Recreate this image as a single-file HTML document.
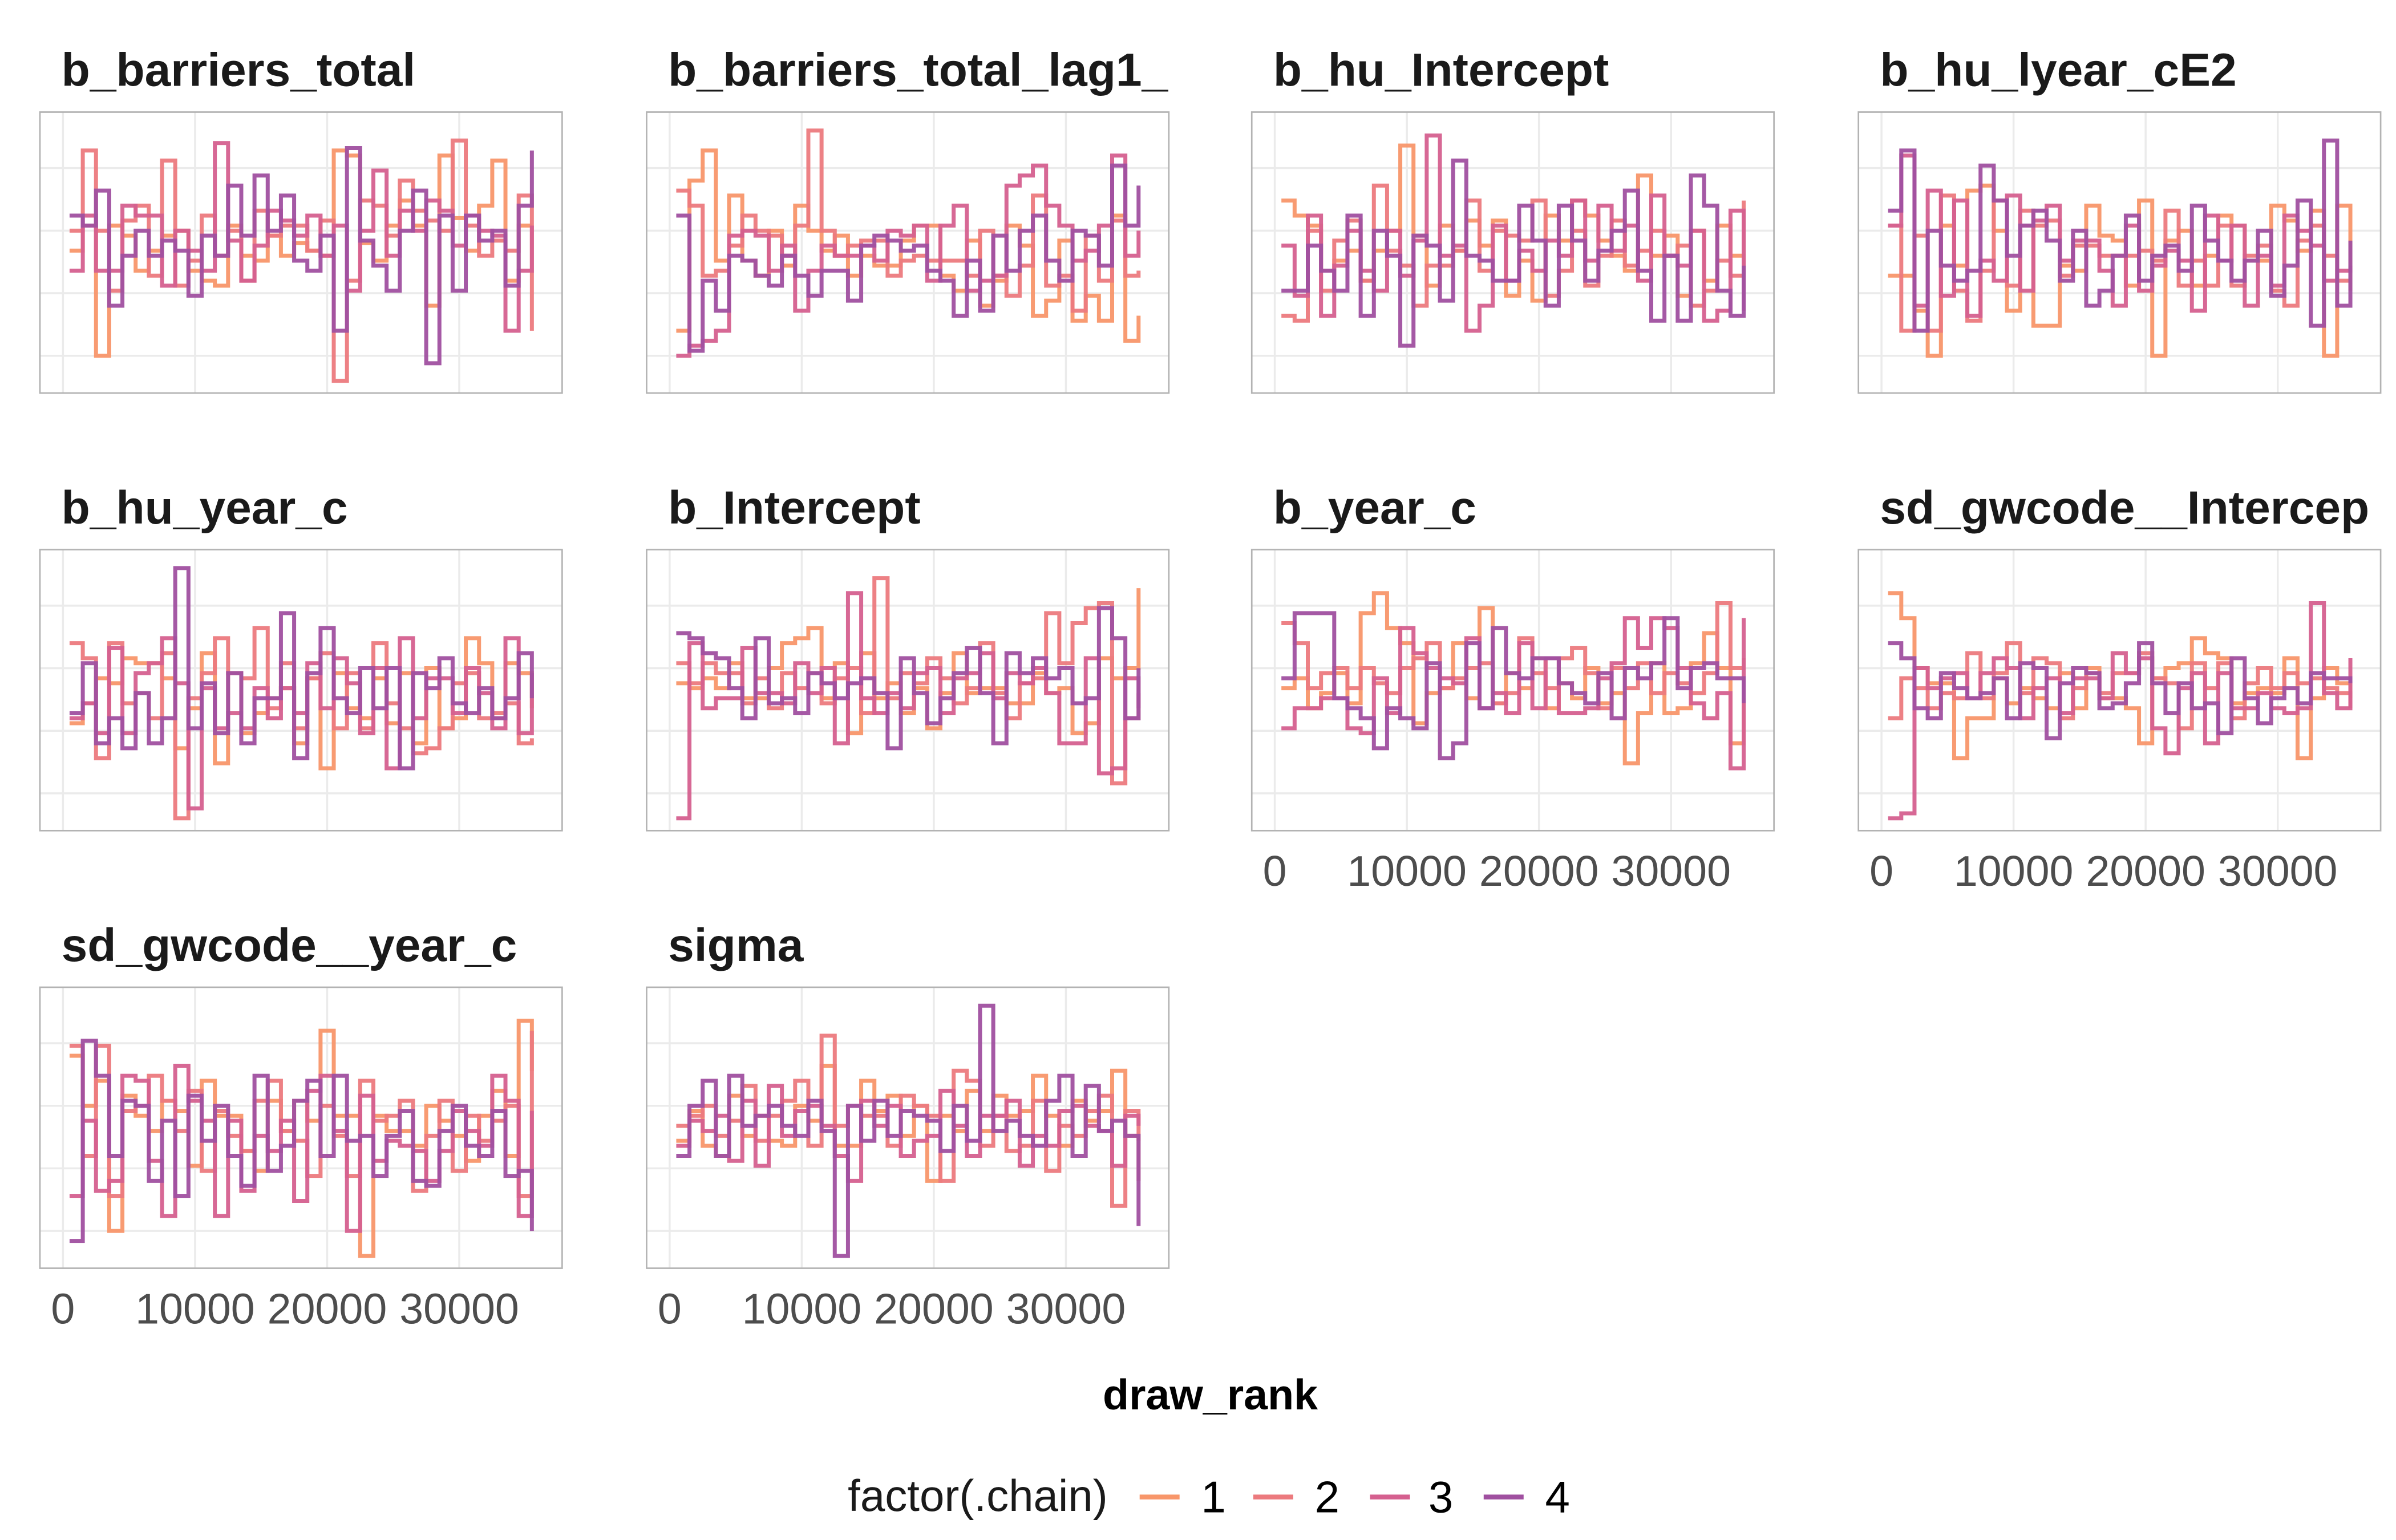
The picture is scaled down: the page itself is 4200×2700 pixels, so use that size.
<!DOCTYPE html>
<html><head><meta charset="utf-8"><title>Rank trace plots</title>
<style>html,body{margin:0;padding:0;background:#fff}svg{display:block}</style></head>
<body>
<svg id="chart" xmlns="http://www.w3.org/2000/svg" width="4200" height="2700" viewBox="0 0 1560 1003" preserveAspectRatio="none" font-family="Liberation Sans, sans-serif">
<rect width="1560" height="1003" fill="#fff"/>
<g id="panels"></g>
<text x="788" y="918" text-anchor="middle" font-size="28" font-weight="bold" fill="#000">draw_rank</text>
<g>
<text x="552" y="984" font-size="29" fill="#1a1a1a">factor(.chain)</text>
<line x1="742" x2="768" y1="975" y2="975" stroke="#F8966A" stroke-width="3.2"/><text x="782" y="985" font-size="29">1</text>
<line x1="816" x2="842" y1="975" y2="975" stroke="#EC7A7E" stroke-width="3.2"/><text x="856" y="985" font-size="29">2</text>
<line x1="892" x2="918" y1="975" y2="975" stroke="#D5608F" stroke-width="3.2"/><text x="930" y="985" font-size="29">3</text>
<line x1="966" x2="992" y1="975" y2="975" stroke="#A050A0" stroke-width="3.2"/><text x="1006" y="985" font-size="29">4</text>
</g>
</svg>
<script>
const titles = ["b_barriers_total","b_barriers_total_lag1_","b_hu_Intercept","b_hu_lyear_cE2","b_hu_year_c","b_Intercept","b_year_c","sd_gwcode__Intercep","sd_gwcode__year_c","sigma"];
const xTicks = [0,10000,20000,30000];
const xTickLabels = ["0","10000","20000","30000"];
const binCenters = [500,1500,2500,3500,4500,5500,6500,7500,8500,9500,10500,11500,12500,13500,14500,15500,16500,17500,18500,19500,20500,21500,22500,23500,24500,25500,26500,27500,28500,29500,30500,31500,32500,33500,34500,35500];
const p0c1=[52,62,10,62,58,44,52,58,60,44,40,38,62,50,48,58,50,55,52,50,92,90,55,48,62,72,62,30,90,65,52,70,88,40,62,62];
const p0c2=[60,92,60,36,64,70,42,88,38,48,66,50,60,40,68,58,62,62,52,64,0,40,72,70,58,80,68,64,60,96,62,50,56,52,74,20];
const p0c3=[44,66,44,44,70,66,66,38,60,52,44,95,56,40,54,68,64,58,66,50,62,36,60,84,50,68,60,72,68,54,66,60,58,20,44,62];
const p0c4=[66,62,76,30,50,60,50,56,52,34,58,50,78,58,82,60,74,48,44,58,20,93,56,46,36,60,76,7,66,36,66,56,60,38,70,92];
const p1c1=[20,80,92,48,74,48,42,60,46,70,60,52,58,42,50,46,46,56,62,62,42,36,56,30,40,62,54,26,32,56,24,34,24,66,16,26];
const p1c2=[76,70,42,44,54,66,60,58,50,62,100,60,50,54,56,56,42,48,50,48,48,48,42,60,42,34,46,74,38,42,28,58,40,64,42,44];
const p1c3=[10,14,16,20,58,60,58,44,54,28,44,54,50,50,54,48,60,58,62,40,62,70,36,40,42,78,82,86,70,62,48,52,62,90,50,60];
const p1c4=[66,12,40,28,50,48,42,38,50,42,34,44,44,32,54,58,56,52,54,44,40,26,48,28,58,44,60,66,48,40,60,58,46,86,62,78];
const p2c1=[72,66,62,44,48,52,40,52,60,94,58,38,62,52,64,54,64,34,48,32,66,56,72,66,56,50,44,82,50,58,34,60,40,62,50,36];
const p2c2=[26,24,60,36,56,64,40,78,52,46,30,46,46,52,72,44,60,58,56,72,34,44,60,38,50,64,46,52,60,50,54,30,36,48,42,72];
const p2c3=[54,34,66,26,46,60,44,36,60,42,56,98,50,54,20,30,62,40,52,44,56,50,72,48,70,52,62,40,74,50,46,60,24,28,68,28];
const p2c4=[36,36,54,44,36,66,26,60,50,14,58,54,32,88,50,48,40,40,70,56,30,70,56,40,52,60,76,44,24,50,24,82,70,36,26,46];
const p3c1=[42,42,28,10,62,46,76,78,60,28,62,22,22,46,44,70,58,56,38,72,10,56,60,38,50,66,62,48,48,70,64,52,68,10,70,36];
const p3c2=[62,20,58,20,74,36,24,44,72,38,68,62,64,42,54,54,50,50,50,52,48,68,38,48,38,62,38,50,54,36,30,56,62,50,40,40];
const p3c3=[62,90,30,76,34,72,26,48,40,74,36,64,70,48,56,56,44,30,62,36,46,52,48,28,66,48,62,30,50,38,66,60,54,40,44,46];
const p3c4=[68,92,20,60,46,40,44,86,72,50,62,68,56,40,60,30,36,50,66,40,50,54,44,70,56,48,40,48,60,34,46,72,22,96,30,56];
const p4c1=[38,46,56,54,64,62,62,56,28,44,66,22,58,34,42,48,52,30,56,20,58,44,40,56,38,58,30,60,36,40,72,62,40,62,58,44];
const p4c2=[70,64,24,70,46,50,40,66,0,48,58,72,58,56,76,44,62,36,56,66,36,58,36,70,46,36,26,28,36,54,58,40,42,46,30,32];
const p4c3=[40,46,34,68,34,58,62,72,54,4,52,36,42,36,52,40,52,42,62,44,64,54,34,60,20,72,40,56,56,42,60,50,36,72,34,58];
const p4c4=[42,62,30,40,28,50,30,40,100,36,54,34,58,30,48,48,82,24,58,76,48,42,60,44,60,20,58,52,64,46,42,52,40,48,66,48];
const p5c1=[54,52,56,52,62,48,48,60,70,72,76,48,62,34,66,48,54,42,52,36,50,66,50,52,52,46,46,58,50,52,34,38,64,56,60,92];
const p5c2=[62,54,62,58,58,46,56,44,58,52,58,46,56,60,42,96,48,58,54,64,56,46,52,70,50,40,54,56,82,62,78,84,86,14,40,50];
const p5c3=[0,70,44,48,48,68,50,50,46,62,50,60,30,90,48,42,50,44,58,60,42,56,58,66,48,58,54,60,50,30,30,64,18,20,56,44];
const p5c4=[74,72,66,64,52,40,72,46,48,42,58,54,48,54,56,50,28,64,50,38,48,58,68,50,30,66,58,64,56,60,46,48,84,72,40,60];
const p6c1=[52,56,44,50,58,46,82,90,76,70,38,50,52,70,48,84,46,58,52,64,44,54,48,60,46,50,22,42,62,42,44,62,74,60,30,48];
const p6c2=[78,70,52,58,60,52,60,54,50,60,64,70,52,56,60,62,46,50,72,58,52,64,68,58,44,60,52,62,50,58,54,50,58,86,60,64];
const p6c3=[36,44,44,48,48,36,34,56,42,76,66,60,56,54,72,44,50,42,70,44,64,42,42,44,56,62,80,68,80,76,60,46,40,50,20,80];
const p6c4=[56,82,82,82,48,44,40,28,44,40,36,62,24,30,70,44,76,58,56,64,64,54,50,46,58,40,60,56,62,80,52,60,62,56,56,46];
const p7c1=[90,80,60,54,54,24,40,40,56,46,52,48,44,58,44,60,48,48,44,30,56,60,62,72,66,64,46,50,52,50,64,24,48,60,54,48];
const p7c2=[40,56,52,44,50,48,66,48,58,70,50,64,62,40,52,58,50,58,58,66,56,54,36,62,52,62,40,54,60,52,58,54,56,52,50,44];
const p7c3=[0,2,60,52,56,58,48,58,64,60,40,52,56,42,56,56,48,66,58,64,36,26,52,58,30,58,44,44,50,44,42,44,86,50,44,64];
const p7c4=[70,64,44,40,58,52,48,50,56,40,62,60,32,54,60,58,44,46,54,70,54,42,54,44,46,34,64,48,38,48,52,46,58,56,56,54];
const p8c1=[80,60,70,10,64,56,50,62,58,36,70,56,56,42,34,62,50,62,54,90,56,56,0,56,50,50,44,60,54,48,38,56,66,40,94,74];
const p8c2=[84,40,84,24,58,60,72,62,50,66,34,58,48,42,62,70,50,46,32,60,48,32,70,54,56,62,26,48,62,34,56,46,54,60,24,90];
const p8c3=[24,54,26,30,72,70,38,16,76,62,54,16,54,26,48,42,54,22,66,72,50,10,64,38,46,44,42,30,42,58,50,44,72,62,16,58];
const p8c4=[6,86,72,40,62,60,30,54,24,64,46,60,40,28,72,34,44,62,70,40,72,46,48,32,48,58,30,28,50,60,44,40,58,32,34,10];
const p9c1=[46,58,44,40,64,48,56,46,44,60,54,76,44,44,70,58,64,48,60,30,56,50,66,50,64,56,58,72,56,44,62,54,58,74,48,46];
const p9c2=[52,56,60,48,54,68,46,56,62,70,44,88,52,60,56,56,44,64,60,56,30,74,70,44,56,42,44,62,34,52,48,58,64,20,58,30];
const p9c3=[44,54,50,56,38,62,36,68,48,58,60,52,40,30,62,52,60,40,46,48,66,52,40,56,56,62,36,48,44,58,60,52,50,36,56,52];
const p9c4=[40,60,70,40,72,52,56,60,52,48,62,50,0,60,46,62,48,58,56,54,42,60,46,100,50,54,48,44,62,72,40,68,50,54,48,12];
const panelData=[[p0c1,p0c2,p0c3,p0c4],[p1c1,p1c2,p1c3,p1c4],[p2c1,p2c2,p2c3,p2c4],[p3c1,p3c2,p3c3,p3c4],[p4c1,p4c2,p4c3,p4c4],[p5c1,p5c2,p5c3,p5c4],[p6c1,p6c2,p6c3,p6c4],[p7c1,p7c2,p7c3,p7c4],[p8c1,p8c2,p8c3,p8c4],[p9c1,p9c2,p9c3,p9c4]];
const colors=["#F8966A","#EC7A7E","#D5608F","#A050A0"];
const NS="http://www.w3.org/2000/svg";
const root=document.getElementById('panels');
const colX=[26,421,815,1210], rowY=[73,358,643], PW=340, PH=183;
function mk(tag,attrs,parent){const e=document.createElementNS(NS,tag);for(const k in attrs)e.setAttribute(k,attrs[k]);parent.appendChild(e);return e;}
titles.forEach((t,i)=>{
  const col=i%4,row=Math.floor(i/4);
  const L=colX[col],T=rowY[row];
  const g=mk('g',{},root);
  
  
  const xs=v=>L+15+v*0.0086;
  const ys=v=>T+PH-8-v*(PH-20)/100;
  const tt=mk('text',{x:L+14,y:T-17,'font-size':30.5,'font-weight':'bold',fill:'#1a1a1a'},g);
  tt.textContent=t;
  
  
  [10,35,60,85].forEach(v=>mk('line',{x1:L,x2:L+PW,y1:ys(v),y2:ys(v),stroke:'#EBEBEB','stroke-width':1.3},g));
  xTicks.forEach(v=>mk('line',{x1:xs(v),x2:xs(v),y1:T,y2:T+PH,stroke:'#EBEBEB','stroke-width':1.3},g));
  mk('rect',{x:L,y:T,width:PW,height:PH,fill:'none',stroke:'#B3B3B3','stroke-width':1},g);
  panelData[i].forEach((arr,c)=>{
    let d='M'+xs(binCenters[0])+','+ys(arr[0]);
    for(let k=1;k<arr.length;k++){d+='H'+xs(binCenters[k])+'V'+ys(arr[k]);}
    const p=mk('path',{d:d,fill:'none',stroke:colors[c],'stroke-width':2.6,'stroke-opacity':0.95},g);
    
    
  });
  const bottom=(row===2)||(row===1&&col>=2);
  if(bottom){xTicks.forEach((v,k)=>{
    const tx=mk('text',{x:xs(v),y:T+PH+36,'font-size':28,'text-anchor':'middle',fill:'#4D4D4D'},g);
    tx.textContent=xTickLabels[k];
    
    
  });}
});
</script>
</body></html>
